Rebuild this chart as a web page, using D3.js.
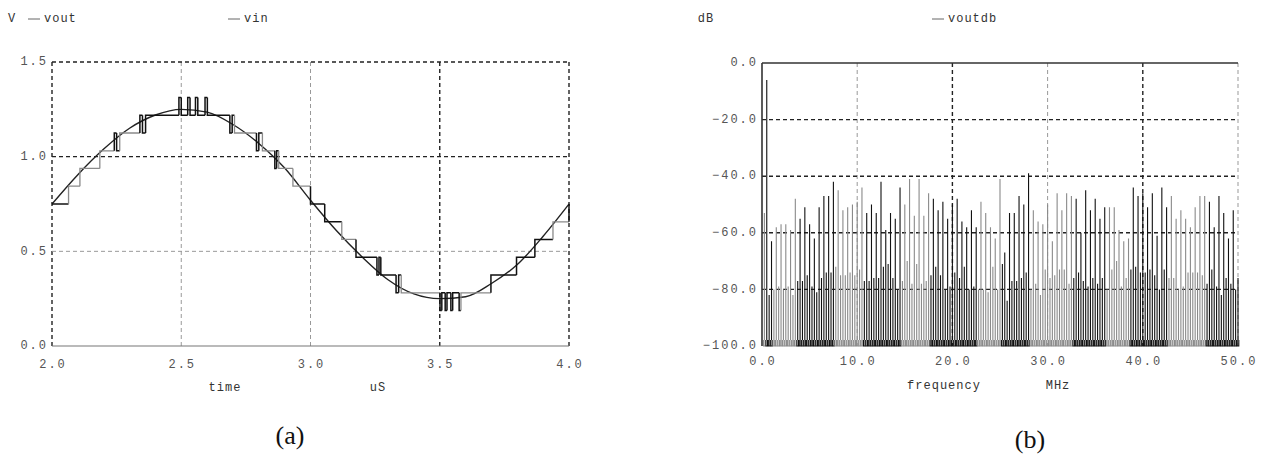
<!DOCTYPE html>
<html>
<head>
<meta charset="utf-8">
<script src="https://cdn.jsdelivr.net/npm/d3@7"></script>
<style>
  body { margin: 0; background: #fff; }
  svg { display: block; }
  .tick-label { font-family: 'Liberation Mono', 'DejaVu Sans Mono', monospace; font-size: 12px; fill: #555; letter-spacing: 2px; }
  .legend { font-family: 'Liberation Mono', 'DejaVu Sans Mono', monospace; font-size: 12px; fill: #333; letter-spacing: 1px; }
  .caption { font-family: 'Liberation Serif', 'DejaVu Serif', serif; font-size: 26px; fill: #111; }
</style>
</head>
<body>
<svg width="1262" height="466"></svg>
<script>
// ---- panel (a): time domain ----
const timeTicks = [2.0, 2.5, 3.0, 3.5, 4.0]
const voltTicks = [0.0, 0.5, 1.0, 1.5]

// vin, every 0.1 uS
const vinTime = [2.0, 2.1, 2.2, 2.3, 2.4, 2.5, 2.6, 2.7, 2.8, 2.9, 3.0, 3.1, 3.2, 3.3, 3.4, 3.5, 3.6, 3.7, 3.8, 3.9, 4.0]
const vinVolt = [0.75, 0.905, 1.04, 1.15, 1.22, 1.25, 1.235, 1.17, 1.07, 0.94, 0.77, 0.61, 0.47, 0.35, 0.275, 0.25, 0.26, 0.33, 0.43, 0.58, 0.75]

// vout staircase: step start time, held level, tone of that step
const stepTime = [2.000, 2.064, 2.108, 2.185, 2.241, 2.250, 2.262, 2.340, 2.350, 2.362,
  2.491, 2.500, 2.525, 2.534, 2.555, 2.564, 2.592, 2.601, 2.688, 2.697,
  2.706, 2.791, 2.800, 2.814, 2.862, 2.869, 2.877, 2.932, 3.000, 3.055,
  3.121, 3.176, 3.257, 3.265, 3.272, 3.331, 3.341, 3.351, 3.501, 3.508,
  3.521, 3.528, 3.543, 3.550, 3.575, 3.582, 3.698, 3.797, 3.868, 3.938, 4.000]
const stepVolt = [0.750, 0.844, 0.938, 1.031, 1.125, 1.031, 1.125, 1.219, 1.125, 1.219,
  1.313, 1.219, 1.313, 1.219, 1.313, 1.219, 1.313, 1.219, 1.125, 1.219,
  1.125, 1.031, 1.125, 1.031, 0.938, 1.031, 0.938, 0.844, 0.750, 0.656,
  0.563, 0.469, 0.375, 0.469, 0.375, 0.281, 0.375, 0.281, 0.188, 0.281,
  0.188, 0.281, 0.188, 0.281, 0.188, 0.281, 0.375, 0.469, 0.563, 0.656, 0.750]
const stepTone = ['k', 'g', 'g', 'g', 'k', 'k', 'g', 'k', 'k', 'k',
  'k', 'k', 'k', 'k', 'k', 'k', 'k', 'k', 'k', 'k',
  'g', 'k', 'k', 'g', 'k', 'k', 'g', 'g', 'k', 'k',
  'g', 'k', 'k', 'k', 'k', 'k', 'k', 'g', 'k', 'k',
  'k', 'k', 'k', 'k', 'k', 'g', 'k', 'k', 'k', 'g', 'k']

// ---- panel (b): spectrum ----
const freqTicks = [0, 10, 20, 30, 40, 50]
const dbTicks = [0, -20, -40, -60, -80, -100]
const binMHz = 0.5

// tall spurs at k * 0.5 MHz, k = 1..100
const tallDb = [-6, -63, -58, -57, -57, -59, -48, -55, -51, -57,
  -62, -51, -47, -47, -42, -45, -52, -51, -50, -49,
  -44, -53, -50, -53, -42, -59, -53, -55, -44, -50,
  -41, -54, -41, -54, -46, -48, -52, -49, -55, -50,
  -48, -56, -58, -52, -58, -49, -53, -58, -62, -41,
  -67, -53, -53, -47, -50, -39, -52, -56, -57, -50,
  -63, -46, -52, -46, -47, -48, -60, -45, -52, -48,
  -55, -51, -51, -51, -59, -63, -62, -44, -47, -46,
  -51, -46, -61, -44, -51, -47, -55, -52, -55, -58,
  -51, -47, -47, -49, -58, -47, -53, -62, -52, -76]

// low spurs at k * 0.5 - 0.25 MHz, k = 1..100
const lowDb = [-53, -82, -80, -79, -80, -79, -82, -77, -77, -75,
  -79, -81, -76, -74, -74, -72, -75, -75, -74, -75,
  -73, -77, -77, -76, -76, -72, -71, -76, -80, -77,
  -70, -78, -71, -78, -77, -75, -72, -75, -80, -79,
  -74, -76, -72, -80, -79, -80, -80, -81, -72, -80,
  -71, -84, -77, -77, -76, -74, -80, -78, -82, -73,
  -76, -75, -73, -73, -78, -76, -74, -77, -79, -76,
  -78, -76, -80, -73, -70, -79, -76, -73, -72, -74,
  -74, -73, -75, -80, -73, -76, -76, -80, -79, -74,
  -74, -74, -75, -78, -73, -79, -82, -76, -78, -80]

// frequency bands in which the trace is drawn black or grey
const bandStart = [0, 0.4, 1.2, 3.7, 7.7, 10.7, 14.7, 17.7, 22.7, 25.2, 28.2, 32.7, 36.2, 38.7, 42.7, 46.7]
const bandTone = ['g', 'k', 'g', 'k', 'g', 'k', 'g', 'k', 'g', 'k', 'g', 'k', 'g', 'k', 'g', 'k']

const ink = { k: '#111', g: '#8a8a8a' }

const svg = d3.select('svg')
const dash = '4,3'

drawTimePanel()
drawSpectrumPanel()

function drawTimePanel () {
  const x = d3.scaleLinear().domain([2, 4]).range([52, 569])
  const y = d3.scaleLinear().domain([0, 1.5]).range([346, 62])
  const g = svg.append('g')

  // grid
  const darkV = [2.0, 3.5, 4.0]
  timeTicks.forEach((t) => {
    g.append('line')
      .attr('x1', x(t)).attr('x2', x(t))
      .attr('y1', y(1.5)).attr('y2', y(0))
      .attr('stroke', darkV.includes(t) ? '#222' : '#999')
      .attr('stroke-width', darkV.includes(t) ? 1.4 : 1)
      .attr('stroke-dasharray', dash)
  })
  voltTicks.filter((v) => v > 0).forEach((v) => {
    g.append('line')
      .attr('x1', x(2)).attr('x2', x(4))
      .attr('y1', y(v)).attr('y2', y(v))
      .attr('stroke', v === 0.5 ? '#999' : '#222')
      .attr('stroke-width', v === 0.5 ? 1 : 1.4)
      .attr('stroke-dasharray', dash)
  })
  g.append('line')
    .attr('x1', x(2)).attr('x2', x(4))
    .attr('y1', y(0)).attr('y2', y(0))
    .attr('stroke', '#777').attr('stroke-width', 1.2)

  // tick labels
  g.selectAll('.ylab').data(voltTicks).enter().append('text')
    .attr('class', 'tick-label')
    .attr('x', 48).attr('y', (d) => y(d))
    .attr('text-anchor', 'end').attr('dominant-baseline', 'middle')
    .text((d) => d.toFixed(1))
  g.selectAll('.xlab').data(timeTicks).enter().append('text')
    .attr('class', 'tick-label')
    .attr('x', (d) => x(d) + 1).attr('y', 365)
    .attr('text-anchor', 'middle').attr('dominant-baseline', 'middle')
    .text((d) => d.toFixed(1))

  // vin
  const vinLine = d3.line()
    .curve(d3.curveMonotoneX)
    .x((d, i) => x(vinTime[i]))
    .y((d) => y(d))
  g.append('path')
    .datum(vinVolt)
    .attr('d', vinLine)
    .attr('fill', 'none')
    .attr('stroke', '#222')
    .attr('stroke-width', 1.4)

  // vout staircase, one piece per step
  stepTime.forEach((t, i) => {
    if (i === stepTime.length - 1) return
    const prev = i === 0 ? stepVolt[0] : stepVolt[i - 1]
    const p = d3.path()
    p.moveTo(x(t), y(prev))
    p.lineTo(x(t), y(stepVolt[i]))
    p.lineTo(x(stepTime[i + 1]), y(stepVolt[i]))
    g.append('path')
      .attr('d', p.toString())
      .attr('fill', 'none')
      .attr('stroke', ink[stepTone[i]])
      .attr('stroke-width', stepTone[i] === 'k' ? 1.5 : 1.3)
  })
  // final rise at 4.0
  g.append('line')
    .attr('x1', x(4)).attr('x2', x(4))
    .attr('y1', y(stepVolt[stepVolt.length - 2])).attr('y2', y(stepVolt[stepVolt.length - 1]))
    .attr('stroke', ink.k).attr('stroke-width', 1.5)

  // legend + axis titles
  svg.append('text').attr('class', 'legend').attr('x', 8).attr('y', 19).attr('dominant-baseline', 'middle').text('V')
  legendItem(28, 19, 'vout')
  legendItem(228, 19, 'vin')
  svg.append('text').attr('class', 'legend').attr('x', 225).attr('y', 388)
    .attr('text-anchor', 'middle').attr('dominant-baseline', 'middle').text('time')
  svg.append('text').attr('class', 'legend').attr('x', 378).attr('y', 388)
    .attr('text-anchor', 'middle').attr('dominant-baseline', 'middle').text('uS')
  svg.append('text').attr('class', 'caption').attr('x', 290).attr('y', 438)
    .attr('text-anchor', 'middle').attr('dominant-baseline', 'middle').text('(a)')
}

function drawSpectrumPanel () {
  const x = d3.scaleLinear().domain([0, 50]).range([762, 1238])
  const y = d3.scaleLinear().domain([-100, 0]).range([346, 63])
  const g = svg.append('g')

  // grid
  const darkF = [20, 40]
  freqTicks.filter((f) => f > 0).forEach((f) => {
    g.append('line')
      .attr('x1', x(f)).attr('x2', x(f))
      .attr('y1', y(0)).attr('y2', y(-100))
      .attr('stroke', darkF.includes(f) ? '#222' : '#999')
      .attr('stroke-width', darkF.includes(f) ? 1.4 : 1)
      .attr('stroke-dasharray', dash)
  })
  dbTicks.filter((d) => d < 0 && d > -100).forEach((d) => {
    g.append('line')
      .attr('x1', x(0)).attr('x2', x(50))
      .attr('y1', y(d)).attr('y2', y(d))
      .attr('stroke', '#222').attr('stroke-width', 1.4)
      .attr('stroke-dasharray', dash)
  })

  // spurs
  const toneAt = (f) => bandTone[d3.bisectRight(bandStart, f) - 1]
  const spurs = []
  tallDb.forEach((d, i) => spurs.push({ f: (i + 1) * binMHz, db: d }))
  lowDb.forEach((d, i) => spurs.push({ f: (i + 1) * binMHz - binMHz / 2, db: d }))
  spurs.sort((a, b) => a.f - b.f)

  const yb = y(-100)
  g.selectAll('.spur').data(spurs).enter().append('path')
    .attr('d', (s) => {
      const cx = x(s.f)
      // single stem with a small U foot at the floor
      return `M${cx},${y(s.db)}V${yb - 6}M${cx - 0.8},${yb - 6}V${yb}H${cx + 0.8}V${yb - 6}`
    })
    .attr('fill', 'none')
    .attr('stroke', (s) => ink[toneAt(s.f)])
    .attr('stroke-width', 1.1)

  // frame
  g.append('line').attr('x1', x(0)).attr('x2', x(50)).attr('y1', y(0)).attr('y2', y(0))
    .attr('stroke', '#333').attr('stroke-width', 1.6)
  g.append('line').attr('x1', x(0)).attr('x2', x(0)).attr('y1', y(0)).attr('y2', y(-100))
    .attr('stroke', '#333').attr('stroke-width', 1.6)

  // tick labels
  g.selectAll('.ylab').data(dbTicks).enter().append('text')
    .attr('class', 'tick-label')
    .attr('x', 758).attr('y', (d) => y(d))
    .attr('text-anchor', 'end').attr('dominant-baseline', 'middle')
    .text((d) => (d === 0 ? '0.0' : '\u2212' + Math.abs(d).toFixed(1)))
  g.selectAll('.xlab').data(freqTicks).enter().append('text')
    .attr('class', 'tick-label')
    .attr('x', (d) => x(d) + 1).attr('y', 362)
    .attr('text-anchor', 'middle').attr('dominant-baseline', 'middle')
    .text((d) => d.toFixed(1))

  // legend + axis titles
  svg.append('text').attr('class', 'legend').attr('x', 706).attr('y', 19)
    .attr('text-anchor', 'middle').attr('dominant-baseline', 'middle').text('dB')
  legendItem(932, 19, 'voutdb')
  svg.append('text').attr('class', 'legend').attr('x', 944).attr('y', 386)
    .attr('text-anchor', 'middle').attr('dominant-baseline', 'middle').text('frequency')
  svg.append('text').attr('class', 'legend').attr('x', 1058).attr('y', 386)
    .attr('text-anchor', 'middle').attr('dominant-baseline', 'middle').text('MHz')
  svg.append('text').attr('class', 'caption').attr('x', 1030).attr('y', 442)
    .attr('text-anchor', 'middle').attr('dominant-baseline', 'middle').text('(b)')
}

function legendItem (x0, y0, label) {
  svg.append('line')
    .attr('x1', x0).attr('x2', x0 + 12)
    .attr('y1', y0).attr('y2', y0)
    .attr('stroke', '#666').attr('stroke-width', 1)
  svg.append('text').attr('class', 'legend')
    .attr('x', x0 + 16).attr('y', y0)
    .attr('dominant-baseline', 'middle')
    .text(label)
}
</script>
</body>
</html>
